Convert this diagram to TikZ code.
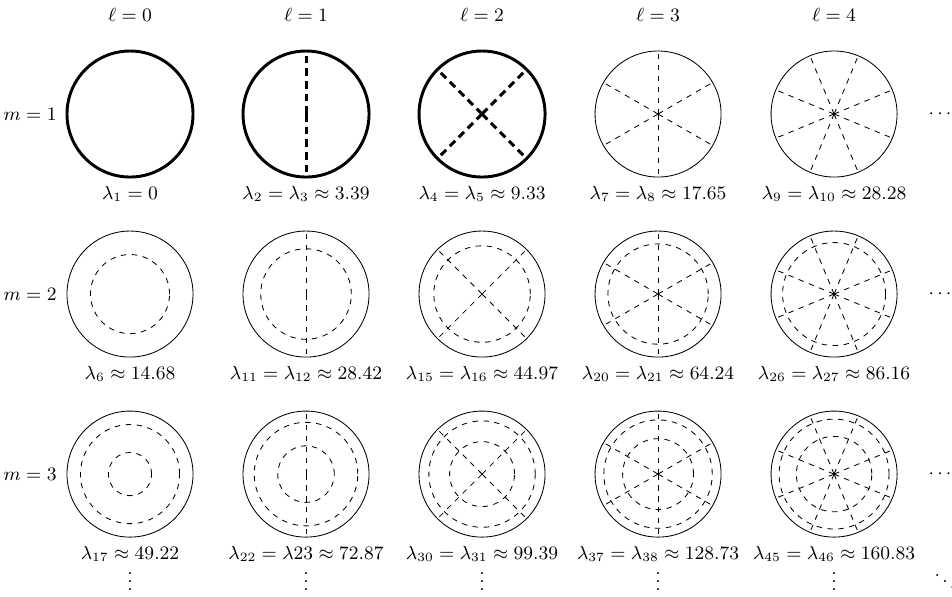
\documentclass[tikz,border=0pt]{standalone}
\usepackage{tikz}
\usetikzlibrary{calc}

\begin{document}
\begin{tikzpicture}[x=2.933cm, y=3cm, font=\small,
    rimline/.style={line width=0.4pt},
    nodeline/.style={line width=0.4pt, dash pattern=on 2.6pt off 2.6pt},
    eigval/.style={inner sep=2pt},
    moredots/.style={inner sep=0pt}
  ]
  \useasboundingbox (-0.7386,-2.678) rectangle (4.670,0.6333);

  % Centres of the membranes
  \foreach \m in {1,2,3}
    \foreach \l in {0,...,4}
      \coordinate (c\l\m) at (\l,1-\m);

  % Boundary circles and nodal diameters
  \foreach \m in {1,2,3}
    \foreach \l in {0,...,4} {
      \pgfmathtruncatemacro\heavy{(\m==1 && \l<3) ? 1 : 0}
      \ifnum\heavy=1
        \tikzset{rimline/.style={line width=1.4pt},
                 nodeline/.style={line width=1.4pt, dash pattern=on 3.6pt off 2.4pt}}
      \fi
      \draw[rimline] (c\l\m) circle (1.05cm);
      \ifnum\l>0
        \pgfmathtruncatemacro\n{2*\l}
        \foreach \k in {1,...,\n}
          \draw[nodeline] (c\l\m) -- ++({(90+180*(\k-1))/\l}:1.05cm);
      \fi
    }

  % Nodal circles
  \foreach \l/\m/\r in {0/2/0.6276, 0/3/0.3428, 0/3/0.7868,
                        1/2/0.7187, 1/3/0.4489, 1/3/0.8219,
                        2/2/0.7658, 2/3/0.5151, 2/3/0.8443,
                        3/2/0.7960, 3/3/0.5623, 3/3/0.8603,
                        4/2/0.8175, 4/3/0.5984, 4/3/0.8725}
    \draw[nodeline] (c\l\m) circle ({\r*1.05cm});

  % Column and row headers
  \foreach \l in {0,...,4}
    \node (l\l) at (\l,0.55) {$\ell = \l$};
  \foreach \m in {1,2,3}
    \node[anchor=east] (m\m) at (-0.375,1-\m) {$m = \m$};

  % Eigenvalues
  \foreach \l/\m/\lab in {0/1/{\lambda_1 = 0},
                          1/1/{\lambda_2 = \lambda_3 \approx 3.39},
                          2/1/{\lambda_4 = \lambda_5 \approx 9.33},
                          3/1/{\lambda_7 = \lambda_8 \approx 17.65},
                          4/1/{\lambda_9 = \lambda_{10} \approx 28.28},
                          0/2/{\lambda_6 \approx 14.68},
                          1/2/{\lambda_{11} = \lambda_{12} \approx 28.42},
                          2/2/{\lambda_{15} = \lambda_{16} \approx 44.97},
                          3/2/{\lambda_{20} = \lambda_{21} \approx 64.24},
                          4/2/{\lambda_{26} = \lambda_{27} \approx 86.16},
                          0/3/{\lambda_{17} \approx 49.22},
                          1/3/{\lambda_{22} = \lambda 23 \approx 72.87},
                          2/3/{\lambda_{30} = \lambda_{31} \approx 99.39},
                          3/3/{\lambda_{37} = \lambda_{38} \approx 128.73},
                          4/3/{\lambda_{45} = \lambda_{46} \approx 160.83}}
    \node[eigval] (e\l\m) at ($(c\l\m)+(0,-0.444)$) {$\lab$};

  % Continuation dots
  \foreach \m in {1,2,3}
    \node[moredots] (h\m) at (4.602,1-\m) {$\cdots$};
  \foreach \l in {0,...,4}
    \node[moredots] (v\l) at (\l,-2.561) {$\vdots$};
  \node[moredots] (dd) at (4.63,-2.561) {$\ddots$};
\end{tikzpicture}
\end{document}
